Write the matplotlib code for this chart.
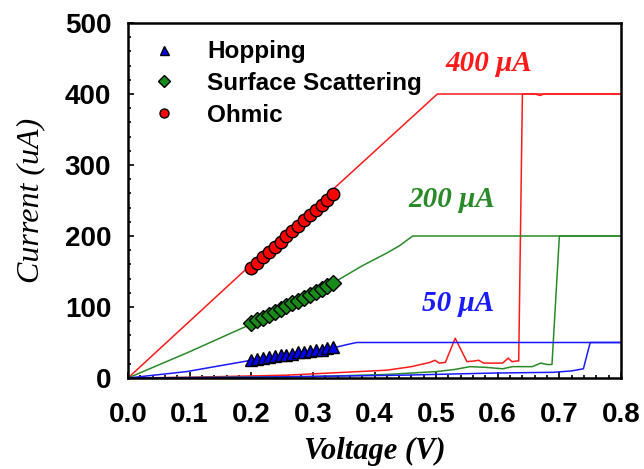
import matplotlib
matplotlib.use("Agg")
import matplotlib.pyplot as plt
from matplotlib.ticker import MultipleLocator

# ---- data ----
marker_v = [0.200, 0.2095, 0.219, 0.2285, 0.238, 0.2475, 0.257, 0.2665,
            0.276, 0.2855, 0.295, 0.3045, 0.314, 0.3235, 0.333]
ohmic_i = [155, 162, 170, 177, 185, 192, 200, 207, 214, 222, 229, 237, 244, 251, 259]
surface_i = [77, 81, 85, 89, 93, 97, 101, 105, 109, 113, 117, 121, 125, 129, 134]
hopping_i = [26, 27, 28, 30, 31, 32, 33, 34, 36, 37, 38, 39, 40, 42, 43]

set400_v = [0, 0.2, 0.333, 0.502, 0.8]
set400_i = [0, 160, 266, 400, 400]
low400_v = [0, 0.10, 0.258, 0.42, 0.46, 0.49, 0.498, 0.505, 0.515, 0.531, 0.55,
            0.562, 0.569, 0.577, 0.608, 0.617, 0.623, 0.631, 0.634, 0.640, 0.66,
            0.669, 0.675, 0.8]
low400_i = [0, 1, 4, 11, 16, 22, 25, 21, 22, 56, 23, 24, 25, 21, 21, 28, 23, 24,
            24, 400, 400, 398, 400, 400]

set200_v = [0, 0.1, 0.2, 0.333, 0.38, 0.42, 0.44, 0.462, 0.8]
set200_i = [0, 37, 76, 134, 158, 176, 186, 200, 200]
low200_v = [0, 0.3, 0.42, 0.5, 0.53, 0.555, 0.58, 0.608, 0.624, 0.656, 0.67,
            0.68, 0.688, 0.700, 0.8]
low200_i = [0, 2, 5, 9, 12, 16, 15, 13, 16, 16, 21, 19, 19, 200, 200]

set50_v = [0, 0.095, 0.2, 0.336, 0.355, 0.371, 0.8]
set50_i = [0, 9, 25, 43, 47, 50, 50]
low50_v = [0, 0.2, 0.447, 0.595, 0.69, 0.72, 0.739, 0.75, 0.8]
low50_i = [0, 1, 4, 7, 8, 10, 13, 50, 50]

x_ticks = [0.0, 0.1, 0.2, 0.3, 0.4, 0.5, 0.6, 0.7, 0.8]
y_ticks = [0, 100, 200, 300, 400, 500]

RED = "#ff1a1a"
GREEN = "#2a8a2a"
BLUE = "#1a1aff"

fig = plt.figure(figsize=(6.44, 4.69), dpi=100)
ax = fig.add_axes([128/644, 1-378/469, (621-128)/644, (378-23)/469])

ax.plot(set400_v, set400_i, color=RED, lw=1.1)
ax.plot(low400_v, low400_i, color=RED, lw=1.1)
ax.plot(set200_v, set200_i, color=GREEN, lw=1.1)
ax.plot(low200_v, low200_i, color=GREEN, lw=1.1)
ax.plot(set50_v, set50_i, color=BLUE, lw=1.1)
ax.plot(low50_v, low50_i, color=BLUE, lw=1.1)

h1, = ax.plot(marker_v, hopping_i, ls="none", marker="^", ms=9, mfc="#0000ee",
              mec="black", mew=1.0, label="Hopping")
h2, = ax.plot(marker_v, surface_i, ls="none", marker="D", ms=8, mfc="#1a8a1a",
              mec="black", mew=1.0, label="Surface Scattering")
h3, = ax.plot(marker_v, ohmic_i, ls="none", marker="o", ms=9, mfc="#ff0000",
              mec="black", mew=1.0, label="Ohmic")

leg = ax.legend(handles=[h1, h2, h3], loc="upper left", frameon=False,
                bbox_to_anchor=(0.0, 1.0), markerscale=0.72, handletextpad=0.97,
                labelspacing=0.36, borderaxespad=0.3, handlelength=1.6,
                prop={"family": "Liberation Sans", "weight": "bold", "size": 17.5})

tfont = {"family": "Liberation Serif", "weight": "bold", "style": "italic", "size": 21}
ax.text(0.515, 443, "400 \u03bcA", color=RED, va="center", ha="left", **tfont)
ax.text(0.455, 251, "200 \u03bcA", color=GREEN, va="center", ha="left", **tfont)
ax.text(0.477, 105, "50 \u03bcA", color=BLUE, va="center", ha="left", **tfont)

ax.set_xlim(0, 0.8)
ax.set_ylim(0, 500)
ax.set_xticks(x_ticks)
ax.set_yticks(y_ticks)
ax.set_xticklabels([f"{t:.1f}" for t in x_ticks])
ax.set_yticklabels([str(t) for t in y_ticks])
ax.xaxis.set_minor_locator(MultipleLocator(0.02))
ax.yaxis.set_minor_locator(MultipleLocator(20))
ax.tick_params(which="both", direction="in", top=False, right=False, width=1.2)
ax.tick_params(which="major", length=4)
ax.tick_params(which="minor", length=2)
ax.tick_params(axis="x", which="major", pad=17)
ax.tick_params(axis="y", which="major", pad=12)
for lab in ax.get_xticklabels() + ax.get_yticklabels():
    lab.set_family("Liberation Sans")
    lab.set_weight("bold")
    lab.set_size(20)
for s in ax.spines.values():
    s.set_linewidth(1.8)

ax.set_xlabel("Voltage (V)", family="Liberation Serif", weight="bold",
              style="italic", size=22)
ax.set_ylabel("Current (uA)", family="Liberation Serif", weight="normal",
              style="italic", size=23)
ax.xaxis.set_label_coords(0.5, -0.165)
ax.yaxis.set_label_coords(-0.168, 0.5)

fig.savefig("out.png", dpi=100)
